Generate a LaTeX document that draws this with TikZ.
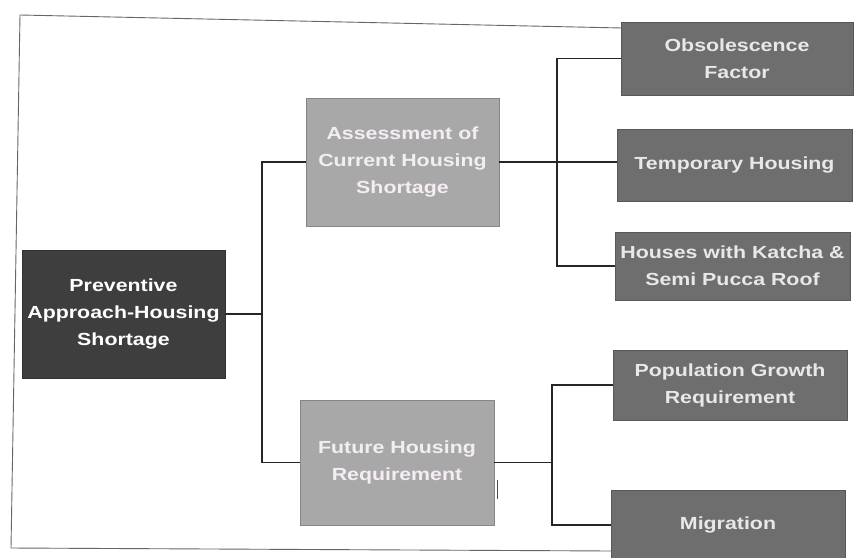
\documentclass[tikz,border=0pt]{standalone}
\usepackage{fontspec}
\setmainfont{Liberation Sans}[FakeStretch=1.22]
\begin{document}
\begin{tikzpicture}[x=1pt,y=-1pt,
  box/.style={rectangle, draw=#1!80!black, line width=0.8pt, fill=#1, align=center, inner sep=0pt,
    font=\fontsize{17.5}{27}\selectfont\bfseries},
  rootbox/.style={box=rootgray, text=white},
  midbox/.style={box=midgray, text=midtext},
  leafbox/.style={box=leafgray, text=leaftext},
  link/.style={draw=black!85, line width=1.3pt},
  frame/.style={draw=black!60, line width=0.9pt}]
\definecolor{rootgray}{HTML}{3E3E3E}
\definecolor{midgray}{HTML}{A8A8A8}
\definecolor{leafgray}{HTML}{6E6E6E}
\definecolor{midtext}{HTML}{F4EEF4}
\definecolor{leaftext}{HTML}{E8E8E8}
\useasboundingbox (0,0) rectangle (861,557);
\fill[white] (0,0) rectangle (861,557);
% scanned page frame
\coordinate (f1) at (20,15);
\coordinate (f2) at (622,28);
\coordinate (f3) at (11,548);
\coordinate (f4) at (612,551);
\draw[frame] (f2) -- (f1) -- (f3) -- (f4);
% nodes
\node[rootbox, minimum width=203pt, minimum height=128pt] (root) at (123.5,314) {Preventive\\Approach-Housing\\Shortage};
\node[midbox, minimum width=193pt, minimum height=128pt] (assess) at (402.5,162) {Assessment of\\Current Housing\\Shortage};
\node[midbox, minimum width=194pt, minimum height=125pt] (future) at (397,462.5) {Future Housing\\Requirement};
\node[leafbox, minimum width=232pt, minimum height=73pt] (obs) at (737,58.5) {Obsolescence\\Factor};
\node[leafbox, minimum width=235pt, minimum height=72pt] (temp) at (734.5,165) {Temporary Housing};
\node[leafbox, minimum width=235pt, minimum height=68pt] (houses) at (732.5,266) {Houses with Katcha \&\\Semi Pucca Roof};
\node[leafbox, minimum width=234pt, minimum height=70pt] (pop) at (730,385) {Population Growth\\Requirement};
\node[leafbox, minimum width=234pt, minimum height=70pt] (mig) at (728,525) {Migration};
% junctions
\coordinate (j1) at (262,314);
\coordinate (j2) at (557,163);
\coordinate (j3) at (552,464);
% connectors
\draw[link] (root.east) -- (j1);
\draw[link] (assess.west) -| (j1) |- (future.west);
\draw[link] (assess.east) -- (assess.east -| temp.west);
\draw[link] (obs.west) -| (j2) |- (houses.west);
\draw[link] (future.east) -- (future.east -| j3);
\draw[link] (pop.west) -| (j3) |- (mig.west);
% stray scan mark
\coordinate (s1) at (497,480);
\coordinate (s2) at (497,499);
\draw[black!70, line width=1pt] (s1) -- (s2);
\end{tikzpicture}
\end{document}
